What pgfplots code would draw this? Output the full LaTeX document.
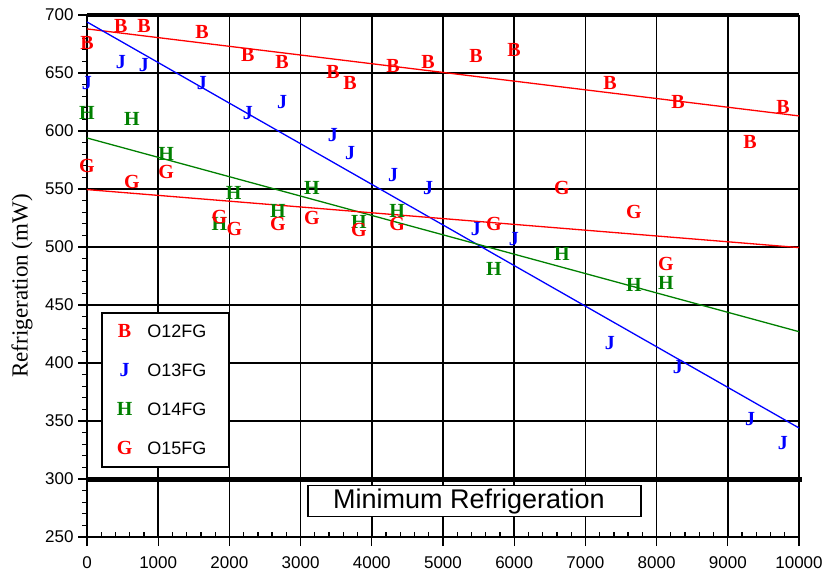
\documentclass[border=0pt]{standalone}
\usepackage{fontspec}
\setmainfont{Liberation Serif}
\setsansfont{Liberation Sans}
\usepackage{pgfplots}
\pgfplotsset{compat=1.18}

\definecolor{mred}{RGB}{255,0,0}
\definecolor{mblue}{RGB}{0,0,255}
\definecolor{mgreen}{RGB}{0,128,0}

% letter markers in bold serif
\pgfplotsset{
  lettermark/.style 2 args={
    only marks, mark=text, text mark={#1}, text mark as node=true,
    text mark style={font=\rmfamily\bfseries\fontsize{20}{20}\selectfont, text=#2,
      inner sep=0pt, anchor=center, text height=13pt, text depth=0pt},
    color=#2},
}

\begin{document}
\begin{tikzpicture}
\path[use as bounding box] (0,0) rectangle (823pt,571pt);
\begin{axis}[
  at={(87pt,34pt)}, anchor=south west,
  scale only axis, width=712pt, height=522pt,
  xmin=0, xmax=10000, ymin=250, ymax=700,
  clip=false,
  axis lines=left, axis line style={-, line width=1.6pt},
  xtick={0,1000,...,10000}, ytick={250,300,...,700},
  minor x tick num=4, minor y tick num=4,
  tick align=outside,
  major tick length=9pt, minor tick length=5pt,
  every tick/.style={black, line width=1.3pt},
  minor x tick style={yshift=5pt},
  grid=major, major grid style={black, line width=1.5pt},
  scaled ticks=false,
  /pgf/number format/assume math mode=true,
  /pgf/number format/set thousands separator={},
  ticklabel style={font=\sffamily\fontsize{17}{17}\selectfont},
  xticklabel style={inner sep=1pt, text depth=0pt, yshift=-9pt},
  yticklabel style={xshift=-1pt},
  ylabel={Refrigeration (mW)},
  every axis y label/.style={at={(axis description cs:-0.0913,0.481)}, rotate=90, anchor=center,
    font=\rmfamily\fontsize{23}{23}\selectfont},
  legend style={at={(0.0197,0.431)}, anchor=north west, draw=black, line width=1.6pt,
    fill=white, inner xsep=15pt, inner ysep=12pt, row sep=26pt, column sep=15pt,
    font=\sffamily\fontsize{18}{18}\selectfont,
    nodes={inner sep=0pt, text height=12pt, text depth=0pt}},
  legend cell align=left,
]

% fitted trend lines
\addplot[forget plot, mred, line width=1.3pt] coordinates {(0,688) (10000,613)};
\addplot[forget plot, mblue, line width=1.3pt] coordinates {(0,694) (10000,344)};
\addplot[forget plot, mgreen, line width=1.3pt] coordinates {(0,594) (10000,427)};
\addplot[forget plot, mred, line width=1.3pt] coordinates {(0,549.5) (10000,499.5)};

% frame top and minimum refrigeration level
\addplot[forget plot, black, line width=4pt] coordinates {(0,700) (10000,700)};
\addplot[forget plot, black, line width=5pt] coordinates {(0,300) (10042,300)};

\addplot[lettermark={B}{mred}] coordinates {
  (0,676) (475,690.5) (800,690.5) (1615,685) (2260,665.5) (2740,659.5)
  (3455,651) (3694,641) (4300,656) (4790,659.5) (5463,664.7) (5997,670)
  (7345,641) (8300,625) (9312,590.5) (9775,620.7)};
\addlegendentry{O12FG\kern7pt}

\addplot[lettermark={J}{mblue}] coordinates {
  (0,641) (475,659.5) (800,657) (1615,641) (2260,615.5) (2740,625)
  (3455,596.5) (3694,581) (4300,562) (4790,551) (5463,515.5) (5997,507)
  (7345,417) (8300,396.5) (9312,352) (9775,331)};
\addlegendentry{O13FG\kern7pt}

\addplot[lettermark={H}{mgreen}] coordinates {
  (0,615.5) (630,610) (1110,580) (1860,520) (2060,546.5) (2680,531)
  (3160,551) (3820,521.5) (4355,531) (5716,481) (6670,494) (7680,467)
  (8130,469)};
\addlegendentry{O14FG\kern7pt}

\addplot[lettermark={G}{mred}] coordinates {
  (0,570) (630,556) (1110,565) (1860,526) (2070,515.5) (2680,520)
  (3160,525) (3820,514.7) (4355,520) (5716,520) (6670,551) (7680,530)
  (8130,485)};
\addlegendentry{O15FG\kern7pt}

\node[draw=black, line width=1.8pt, fill=white, minimum width=333pt, minimum height=31pt,
  inner sep=0pt, font=\sffamily\fontsize{27}{27}\selectfont]
  at (axis cs:5442,281) {Minimum Refrigeration\kern11pt};
\end{axis}
\end{tikzpicture}
\end{document}
